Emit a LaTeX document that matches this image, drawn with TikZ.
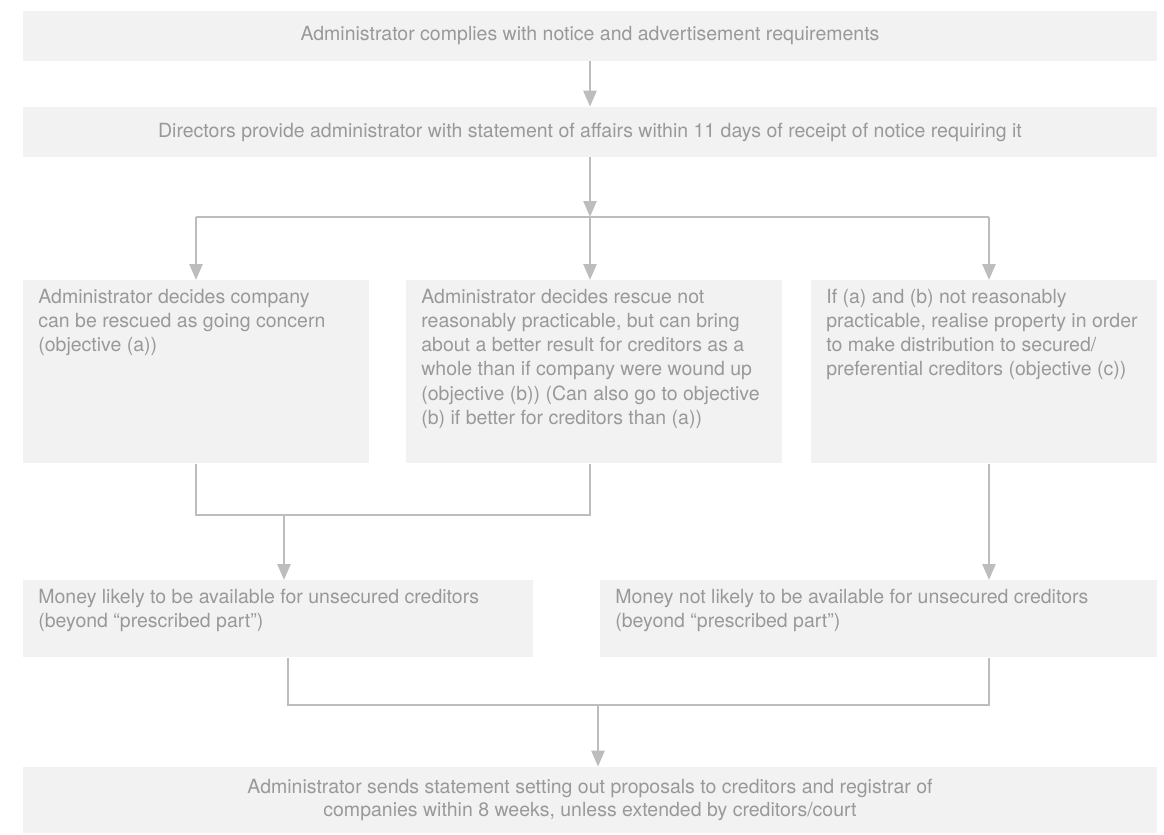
\documentclass[tikz,border=0pt]{standalone}
\usepackage{fontspec}
\setmainfont{TeX Gyre Heros}
\usepackage{tikz}
\usetikzlibrary{arrows.meta}
\definecolor{boxgrey}{HTML}{F2F2F2}
\definecolor{textgrey}{HTML}{999999}
\definecolor{linegrey}{HTML}{BDBDBD}
\tikzstyle{banner} = [rectangle, fill=boxgrey, text=textgrey, inner sep=0pt,
    minimum width=22.68cm, minimum height=1cm, align=center,
    font=\fontsize{11.1}{13.6}\selectfont]
\tikzstyle{option} = [rectangle, fill=boxgrey, text=textgrey, anchor=north west,
    inner xsep=0.3cm, inner ysep=0.17cm, font=\fontsize{11.1}{13.8}\selectfont]
\tikzstyle{line} = [draw=linegrey, line width=1.5pt, -{Triangle[length=0.32cm, width=0.26cm]}]
\tikzstyle{elbow} = [draw=linegrey, line width=1.5pt]
\newcommand{\optiontext}[3]{\parbox[t][#2][t]{#1}{\raggedright #3}}

\begin{document}
\begin{tikzpicture}[x=0.02cm, y=-0.02cm]
    \useasboundingbox (0,0) rectangle (1164,835);
    % Nodes
    \node [banner] (notice) at (590,36) {Administrator complies with notice and advertisement requirements};
    \node [banner] (affairs) at (590,132) {Directors provide administrator with statement of affairs within 11 days of receipt of notice requiring it};
    \node [option, minimum width=6.92cm, minimum height=3.66cm] (objA) at (23,280)
        {\optiontext{6.32cm}{3.32cm}{Administrator decides company\\
        can be rescued as going concern\\
        (objective (a))}};
    \node [option, minimum width=7.52cm, minimum height=3.66cm] (objB) at (406,280)
        {\optiontext{6.92cm}{3.32cm}{Administrator decides rescue not\\
        reasonably practicable, but can bring\\
        about a better result for creditors as a\\
        whole than if company were wound up\\
        (objective (b)) (Can also go to objective\\
        (b) if better for creditors than (a))}};
    \node [option, minimum width=6.92cm, minimum height=3.66cm] (objC) at (811,280)
        {\optiontext{6.32cm}{3.32cm}{If (a) and (b) not reasonably\\
        practicable, realise property in order\\
        to make distribution to secured/\\
        preferential creditors (objective (c))}};
    \node [option, minimum width=10.2cm, minimum height=1.54cm] (likely) at (23,580)
        {\optiontext{9.6cm}{1.2cm}{Money likely to be available for unsecured creditors\\
        (beyond “prescribed part”)}};
    \node [option, minimum width=11.14cm, minimum height=1.54cm] (unlikely) at (600,580)
        {\optiontext{10.54cm}{1.2cm}{Money not likely to be available for unsecured creditors\\
        (beyond “prescribed part”)}};
    \node [banner, minimum height=1.32cm] (proposals) at (590,800)
        {Administrator sends statement setting out proposals to creditors and registrar of\\
        companies within 8 weeks, unless extended by creditors/court};
    % Junctions
    \coordinate (split) at (590,217);
    \coordinate (splitA) at (196,217);
    \coordinate (splitC) at (989,217);
    \coordinate (joinA) at (196,515);
    \coordinate (joinB) at (590,515);
    \coordinate (joinAB) at (284,515);
    \coordinate (mergeL) at (288,705);
    \coordinate (mergeR) at (989,705);
    \coordinate (merge) at (598,705);
    % Edges
    \path [line] (notice) -- (affairs);
    \path [line] (affairs.south -| split) -- (split);
    \path [elbow] (splitA) -- (splitC);
    \path [line] (splitA) -- (splitA |- objA.north);
    \path [line] (split) -- (split |- objB.north);
    \path [line] (splitC) -- (splitC |- objC.north);
    \path [elbow] (joinA |- objA.south) -- (joinA) -- (joinB) -- (joinB |- objB.south);
    \path [line] (joinAB) -- (joinAB |- likely.north);
    \path [line] (splitC |- objC.south) -- (splitC |- unlikely.north);
    \path [elbow] (mergeL |- likely.south) -- (mergeL) -- (mergeR) -- (mergeR |- unlikely.south);
    \path [line] (merge) -- (merge |- proposals.north);
\end{tikzpicture}
\end{document}
